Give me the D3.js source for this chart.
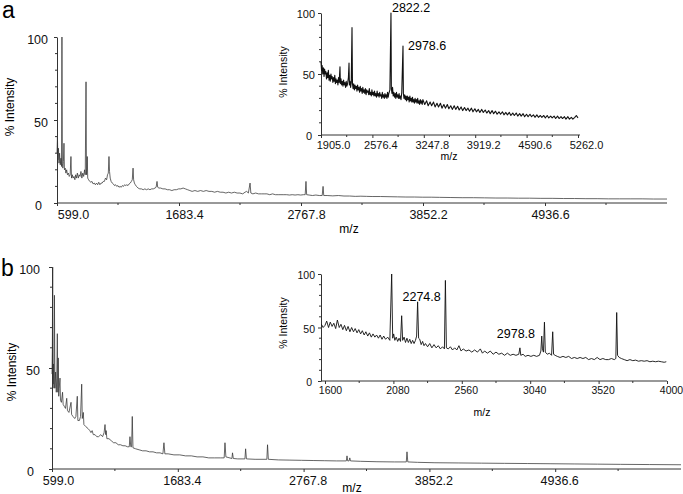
<!DOCTYPE html>
<html>
<head>
<meta charset="utf-8">
<script src="https://cdn.jsdelivr.net/npm/d3@7"></script>
<style>
  body { margin: 0; background: #fff; }
  svg { font-family: "Liberation Sans", Arial, sans-serif; display: block; }
</style>
</head>
<body>
<div id="chart"></div>
<script>
// tick labels
const mzTicksMain = [599.0, 1683.4, 2767.8, 3852.2, 4936.6];
const mzTicksInsetA = [1905.0, 2576.4, 3247.8, 3919.2, 4590.6, 5262.0];
const mzTicksInsetB = [1600, 2080, 2560, 3040, 3520, 4000];
const intensityTicks = [0, 50, 100];

// spectrum a, full range [m/z, % intensity]
const spectrumA = [
  [599,30],[603,40],[607,26],[612,33],[617,24],[622,30],[628,23],[634,27],[639,22],[643,100],[647,24],
  [651,21],[656,25],[661,36],[665,20],[672,21],[678,18],[685,20],[692,17],[700,18],[708,16],[716,17],
  [723,28],[728,15],[735,17],[742,15],[750,16],[758,14],[765,17],[772,15],[780,18],[788,15],[796,17],
  [804,16],[812,19],[820,15],[828,18],[836,16],[844,20],[850,17],[857,73],[861,17],[865,21],[868,28],
  [872,15],[880,14],[890,13],[900,12.5],[910,13],[920,11.5],[930,12],[940,11],[950,12],[960,11],
  [970,12.5],[980,11],[990,12],[1000,12],[1010,13],[1020,13],[1030,15],[1040,14],[1048,17],[1055,18],
  [1061,28],[1066,19],[1072,15],[1080,13],[1090,12],[1100,11.5],[1110,10.5],[1120,11],[1130,10],
  [1140,10.5],[1150,9.5],[1160,10],[1170,9.5],[1180,10.5],[1190,10],[1200,11],[1210,10.5],[1220,11],
  [1230,10.5],[1240,11.5],[1250,12],[1260,13],[1268,14],[1275,21],[1280,14],[1287,12],[1295,11],
  [1305,10],[1320,9],[1335,8.5],[1350,8.5],[1365,8],[1380,8.5],[1395,8],[1410,8.5],[1425,8],[1440,8.5],
  [1455,8.5],[1470,9],[1480,9.5],[1488,13],[1494,9.5],[1505,9],[1520,9],[1540,8.5],[1560,8.5],[1580,8],
  [1600,8],[1620,7.5],[1640,8],[1660,8],[1680,8.5],[1700,8.5],[1720,9],[1740,8.5],[1760,8],[1780,7.5],
  [1800,7],[1825,7.5],[1850,7],[1875,7.5],[1900,7],[1925,7.5],[1950,7],[1975,7],[2000,6.5],[2025,7],
  [2050,6.5],[2075,6.5],[2100,6],[2125,6.5],[2150,6],[2175,6.5],[2200,6],[2225,6],[2250,5.5],[2270,6.5],
  [2285,7],[2300,6],[2315,12],[2322,6],[2340,5.5],[2365,6],[2390,5.5],[2415,5.5],[2440,5.5],[2465,5.5],
  [2490,5],[2515,5.5],[2540,5],[2565,5],[2590,5],[2615,5],[2640,5],[2665,4.8],[2690,5],[2715,4.8],
  [2740,5],[2765,4.8],[2790,5],[2805,5],[2812,13],[2818,5],[2840,4.8],[2870,4.5],[2900,4.8],[2930,4.5],
  [2956,4.5],[2964,10],[2970,4.5],[3000,4.5],[3050,4.3],[3100,4.5],[3150,4.2],[3200,4.2],[3250,4],
  [3300,4.1],[3350,4],[3400,3.9],[3475,3.9],[3550,3.8],[3625,3.7],[3700,3.6],[3775,3.6],[3850,3.5],
  [3925,3.5],[4000,3.4],[4100,3.3],[4200,3.2],[4300,3.2],[4400,3.1],[4500,3],[4600,3],[4700,2.9],
  [4800,2.9],[4900,2.8],[5000,2.8],[5100,2.7],[5200,2.7],[5300,2.6],[5400,2.6],[5500,2.5],[5600,2.5],
  [5700,2.5],[5800,2.5],[5900,2.4],[6021,2.4]
];

// spectrum a, inset
const spectrumAInset = [
  [1905,60],[1912,53],[1920,57],[1928,50],[1936,55],[1945,48],[1952,54],[1960,50],[1968,52],[1977,46],
  [1985,51],[1993,47],[2001,53],[2010,45],[2018,49],[2026,44],[2035,50],[2043,46],[2051,48],[2060,43],
  [2068,47],[2077,44],[2085,49],[2093,42],[2101,46],[2110,43],[2118,45],[2126,41],[2134,47],[2142,43],
  [2153,56],[2158,42],[2166,46],[2175,41],[2183,44],[2192,40],[2200,45],[2209,41],[2217,43],[2226,39],
  [2234,44],[2243,40],[2252,42],[2263,47],[2271,59],[2276,41],[2284,44],[2292,39],[2300,43],[2310,88],
  [2316,42],[2324,38],[2332,42],[2341,37],[2349,41],[2358,38],[2366,40],[2375,36],[2383,41],[2392,37],
  [2400,39],[2409,35],[2417,40],[2426,36],[2434,38],[2443,34],[2451,39],[2460,35],[2468,37],[2477,34],
  [2485,38],[2494,33],[2502,37],[2511,35],[2519,36],[2528,33],[2536,38],[2545,33],[2553,35],[2562,32],
  [2570,37],[2579,33],[2587,35],[2596,32],[2604,36],[2613,32],[2621,34],[2630,31],[2638,36],[2647,32],
  [2655,34],[2664,31],[2672,35],[2681,32],[2689,33],[2698,30],[2706,35],[2715,31],[2723,33],[2732,30],
  [2740,34],[2749,31],[2757,33],[2766,30],[2774,35],[2783,31],[2791,34],[2805,37],[2819,100],[2824,38],
  [2832,34],[2840,39],[2848,32],[2857,35],[2865,31],[2874,34],[2882,30],[2891,35],[2899,31],[2908,33],
  [2916,30],[2925,34],[2933,30],[2942,32],[2950,29],[2960,35],[2976,73],[2981,34],[2989,30],[2998,33],
  [3006,29],[3015,32],[3023,28],[3032,32],[3040,29],[3049,31],[3057,27],[3066,32],[3074,28],[3083,30],
  [3091,27],[3100,31],[3108,27],[3117,29],[3125,26],[3134,30],[3142,27],[3151,29],[3159,26],[3168,30],
  [3176,26],[3185,28],[3193,25],[3202,29],[3210,26],[3219,28],[3227,25],[3236,29],[3260,25],[3285,28],
  [3305,24],[3330,27],[3350,24],[3375,27],[3395,23],[3420,26],[3440,23],[3465,26],[3485,22],[3510,25],
  [3530,22],[3555,25],[3575,21.5],[3600,24],[3620,21],[3645,24],[3665,21],[3690,23.5],[3710,20.5],
  [3735,23],[3755,20],[3780,22.5],[3800,20],[3825,22],[3845,19.5],[3870,22],[3890,19],[3915,21.5],
  [3935,19],[3960,21],[3980,18.5],[4005,21],[4025,18.5],[4050,20.5],[4070,18],[4095,20],[4115,17.5],
  [4140,20],[4160,17.5],[4185,19.5],[4205,17],[4230,19],[4250,17],[4275,19],[4295,16.5],[4320,18.5],
  [4340,16.5],[4365,18.5],[4385,16],[4410,18],[4430,16],[4455,18],[4475,15.5],[4500,17.5],[4520,15.5],
  [4545,17.5],[4565,15],[4590,17],[4610,15],[4635,17],[4655,15],[4680,16.5],[4700,14.5],[4725,16.5],
  [4745,14.5],[4770,16],[4790,14.5],[4815,16],[4835,14],[4860,16],[4880,14],[4905,15.5],[4925,14],
  [4950,15.5],[4970,13.5],[4995,15.5],[5015,13.5],[5040,15],[5060,13.5],[5085,15],[5105,13],[5130,15],
  [5150,13],[5175,14.5],[5195,13],[5220,14.5],[5240,16],[5262,14]
];

// spectrum b, full range
const spectrumB = [
  [599,47],[602,60],[605,100],[608,42],[612,52],[616,40],[620,86],[624,40],[630,48],[636,38],[640,45],
  [645,67],[649,38],[653,55],[657,36],[661,40],[668,45],[672,34],[680,33],[690,38],[695,32],[705,31],
  [715,30],[726,35],[732,29],[745,28],[763,33],[768,27],[780,26],[795,25],[805,26],[817,36],[822,24],
  [835,24],[845,26],[855,42],[860,25],[869,28],[874,22],[890,21],[910,20],[925,19],[935,18],[945,19],
  [955,17],[970,17],[985,16],[1000,16],[1020,17],[1035,16],[1048,18],[1056,22],[1062,17],[1066,19],
  [1072,15],[1090,15],[1110,14],[1130,13],[1150,13],[1170,12],[1190,12],[1210,11.5],[1230,11.5],
  [1250,11],[1265,11],[1271,16],[1278,11],[1285,11],[1291,26],[1297,10.5],[1320,10],[1350,9.5],
  [1380,9],[1410,9],[1440,8.5],[1470,8.5],[1500,8],[1530,8],[1555,7.5],[1564,13],[1572,7.5],[1600,7.5],
  [1650,7],[1700,7],[1750,6.5],[1800,6.5],[1850,6],[1900,6],[1950,5.5],[2000,5.5],[2050,5.5],[2083,5.5],
  [2090,13],[2098,6],[2150,5.2],[2155,8],[2162,5.2],[2200,5],[2262,5],[2268,10],[2275,5],[2350,4.8],
  [2451,4.8],[2457,12],[2464,4.8],[2550,4.5],[2650,4.4],[2750,4.3],[2850,4.2],[2950,4.1],[3050,4],
  [3136,4],[3142,6.5],[3148,4],[3160,4],[3166,5.5],[3172,4],[3260,3.8],[3400,3.6],[3550,3.5],[3653,3.5],
  [3659,8.5],[3666,3.5],[3750,3.3],[3900,3.1],[4100,3],[4300,2.9],[4500,2.8],[4700,2.7],[4900,2.6],
  [5100,2.5],[5300,2.4],[5500,2.3],[5750,2.2],[6021,2.1]
];

// spectrum b, inset
const spectrumBInset = [
  [1575,53],[1587,50],[1600,52],[1612,56],[1625,50],[1637,55],[1650,51],[1662,54],[1675,49],[1687,57],
  [1700,50],[1712,53],[1725,48],[1737,52],[1750,47],[1762,51],[1775,46],[1787,50],[1800,46],[1812,49],
  [1825,45],[1837,48],[1850,44],[1862,47],[1875,43],[1887,46],[1900,42],[1912,45],[1925,41],[1937,44],
  [1950,41],[1962,43],[1975,40],[1987,43],[2000,39],[2012,42],[2025,39],[2040,41],[2055,38],[2068,100],
  [2075,40],[2082,44],[2090,38],[2100,41],[2110,37],[2120,40],[2130,37],[2138,61],[2145,38],[2155,41],
  [2165,36],[2175,40],[2185,36],[2195,39],[2205,35],[2215,38],[2225,35],[2235,38],[2243,42],[2250,74],
  [2257,40],[2265,39],[2275,34],[2285,37],[2295,33],[2305,35],[2320,32],[2335,35],[2350,31],[2365,34],
  [2380,31],[2395,33],[2410,30],[2425,32],[2438,30],[2445,94],[2452,31],[2465,30],[2480,32],[2495,29],
  [2510,31],[2525,29],[2540,33],[2555,28],[2570,30],[2590,28],[2610,29],[2630,27],[2650,29],[2670,27],
  [2690,30],[2705,26],[2720,28],[2740,26],[2760,28],[2780,25],[2800,27],[2820,25],[2840,26],[2860,24],
  [2880,26],[2900,24],[2920,25],[2940,24],[2960,25],[2968,31],[2974,24],[2990,25],[3005,23],[3025,24],
  [3045,23],[3065,24],[3085,23],[3105,24],[3115,28],[3121,42],[3126,30],[3133,27],[3140,55],[3146,27],
  [3160,25],[3175,26],[3190,24],[3198,46],[3204,25],[3215,24],[3230,23],[3250,22],[3270,23],[3290,22],
  [3310,23],[3330,21],[3350,22],[3370,21],[3390,22],[3410,21],[3430,22],[3450,20],[3470,21],[3490,20],
  [3510,22],[3530,20],[3550,21],[3570,20],[3590,20],[3610,21],[3630,20],[3641,21],[3647,64],[3653,24],
  [3665,22],[3680,21],[3700,20],[3720,19],[3740,20],[3760,19],[3780,19.5],[3800,18.5],[3820,19],
  [3840,18.5],[3860,19],[3880,18],[3900,18.5],[3920,18],[3940,18.5],[3960,18],[3980,17.5],[3995,18]
];

// annotated peaks
const peakLabelsA = [
  { mz: 2819, intensity: 100, text: "2822.2" },
  { mz: 2976, intensity: 73, text: "2978.6" }
];
const peakLabelsB = [
  { mz: 2250, intensity: 74, text: "2274.8" },
  { mz: 2968, intensity: 31, text: "2978.8" }
];

const width = 683, height = 494;

const svg = d3.select("#chart").append("svg")
  .attr("width", width)
  .attr("height", height);

function drawPanel(p) {
  const x = d3.scaleLinear().domain(p.xDomain).range(p.xRange);
  const y = d3.scaleLinear().domain([0, 100]).range(p.yRange);
  const g = svg.append("g");

  // minor ticks halfway between the labelled ones
  const minorX = [];
  for (let i = 0; i < p.xTicks.length - 1; i++) minorX.push((p.xTicks[i] + p.xTicks[i + 1]) / 2);
  const step = p.xTicks[1] - p.xTicks[0];
  const last = p.xTicks[p.xTicks.length - 1] + step / 2;
  if (last < p.xDomain[1]) minorX.push(last);

  const xAxis = g.append("g")
    .attr("transform", `translate(0,${p.yRange[0]})`)
    .call(d3.axisBottom(x).tickValues(p.xTicks).tickSize(3).tickSizeOuter(0)
      .tickFormat(p.xFormat).tickPadding(p.xPad));
  xAxis.selectAll(".tick text").attr("font-size", p.tickFont)
    .attr("dx", (d, i) => i === 0 ? p.firstDx : p.xLabelDx)
    .attr("fill", "#111");
  xAxis.append("g").selectAll("line").data(minorX).join("line")
    .attr("x1", d => x(d)).attr("x2", d => x(d)).attr("y1", 0).attr("y2", 2)
    .attr("stroke", "#333");
  xAxis.select(".domain").attr("d", `M${p.xRange[0]},0H${p.axisEnd}`);

  const yAxis = g.append("g")
    .attr("transform", `translate(${p.xRange[0]},0)`)
    .call(d3.axisLeft(y).tickValues(intensityTicks).tickSize(3).tickSizeOuter(0)
      .tickPadding(p.yPad));
  yAxis.selectAll(".tick text").attr("font-size", p.tickFont)
    .attr("dy", p.yLabelDy)
    .attr("dx", d => d === 0 ? p.zeroDx : 0)
    .attr("fill", "#111");
  yAxis.append("g").selectAll("line").data(d3.range(10, 100, 10).filter(v => v !== 50)).join("line")
    .attr("x1", -2).attr("x2", 0).attr("y1", d => y(d)).attr("y2", d => y(d))
    .attr("stroke", "#333");
  g.selectAll(".domain, .tick line").attr("stroke", "#333");

  g.append("path")
    .datum(p.data)
    .attr("fill", "none")
    .attr("stroke", p.lineColor)
    .attr("stroke-width", p.lineWidth)
    .attr("stroke-linejoin", "round")
    .attr("d", d3.line().x(d => x(d[0])).y(d => y(d[1])));

  g.append("text")
    .attr("x", p.mzLabel[0]).attr("y", p.mzLabel[1])
    .attr("text-anchor", "middle")
    .attr("font-size", p.titleFont)
    .text("m/z");

  g.append("text")
    .attr("transform", `translate(${p.yLabel[0]},${p.yLabel[1]}) rotate(-90)`)
    .attr("text-anchor", "middle")
    .attr("font-size", p.titleFont)
    .text("% Intensity");

  if (p.peaks) {
    g.selectAll(".peak").data(p.peaks).join("text")
      .attr("class", "peak")
      .attr("x", (d, i) => x(d.mz) + p.peakOffsets[i][0])
      .attr("y", (d, i) => y(d.intensity) + p.peakOffsets[i][1])
      .attr("text-anchor", (d, i) => p.peakOffsets[i][2])
      .attr("font-size", 12.5)
      .text(d => d.text);
  }
}

drawPanel({
  data: spectrumA, xDomain: [599, 6021], xRange: [57, 667], yRange: [203, 37], axisEnd: 667,
  xTicks: mzTicksMain, xFormat: d3.format(".1f"), xLabelDx: 5, firstDx: 16, xPad: 4,
  yPad: 6, yLabelDy: "0.5em", zeroDx: -6,
  tickFont: 12.5, titleFont: 12, lineColor: "#333", lineWidth: 0.75,
  mzLabel: [349, 233], yLabel: [14, 107]
});

drawPanel({
  data: spectrumAInset, xDomain: [1905, 5262], xRange: [321, 578], yRange: [135, 13], axisEnd: 580,
  xTicks: mzTicksInsetA, xFormat: d3.format(".1f"), xLabelDx: 8, firstDx: 12, xPad: 3,
  yPad: 3, yLabelDy: "0.45em", zeroDx: -3,
  tickFont: 11, titleFont: 10.5, lineColor: "#111", lineWidth: 1.1,
  mzLabel: [449, 160], yLabel: [287, 72],
  peaks: peakLabelsA, peakOffsets: [[1, -1, "start"], [5, 4, "start"]]
});

drawPanel({
  data: spectrumB, xDomain: [599, 6021], xRange: [52, 681], yRange: [469, 267], axisEnd: 681,
  xTicks: mzTicksMain, xFormat: d3.format(".1f"), xLabelDx: 4, firstDx: 6, xPad: 4,
  yPad: 9, yLabelDy: "0.5em", zeroDx: -6,
  tickFont: 12.5, titleFont: 12, lineColor: "#333", lineWidth: 0.75,
  mzLabel: [352, 492], yLabel: [16, 372]
});

drawPanel({
  data: spectrumBInset, xDomain: [1572, 4000], xRange: [321, 667], yRange: [381, 274], axisEnd: 667,
  xTicks: mzTicksInsetB, xFormat: d3.format("d"), xLabelDx: 4, firstDx: 5, xPad: 3,
  yPad: 3, yLabelDy: "0.45em", zeroDx: -3,
  tickFont: 10.5, titleFont: 10.5, lineColor: "#111", lineWidth: 0.9,
  mzLabel: [482, 416], yLabel: [287, 323],
  peaks: peakLabelsB, peakOffsets: [[4, -1, "middle"], [-4, -10, "middle"]]
});

svg.append("text").attr("x", 2).attr("y", 18).attr("font-size", 23).text("a");
svg.append("text").attr("x", 1).attr("y", 276).attr("font-size", 23).text("b");
</script>
</body>
</html>
